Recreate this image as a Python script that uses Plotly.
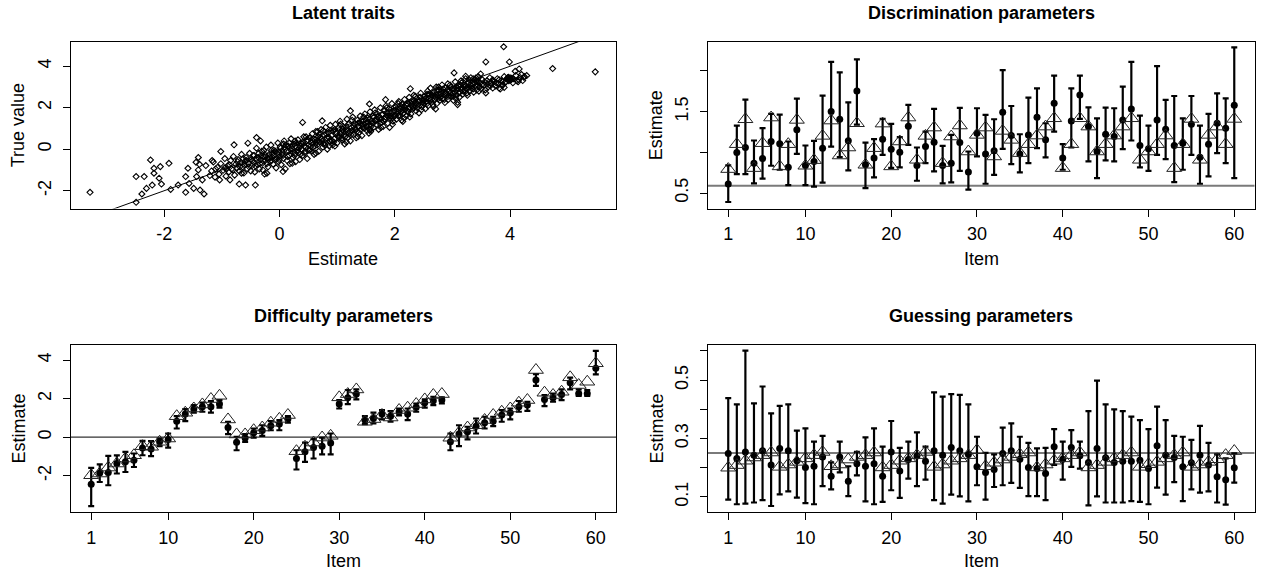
import plotly.graph_objects as go

# ---------------- data ----------------
items = list(range(1, 61))

disc_est = [0.610, 0.998, 1.059, 0.867, 0.924, 1.133, 1.104, 0.818, 1.276, 0.839,
            0.888, 1.051, 1.500, 1.406, 1.141, 1.753, 0.847, 0.929, 1.161, 1.039,
            1.002, 1.320, 0.839, 1.071, 1.124, 0.839, 0.867, 1.120, 0.757, 1.235,
            0.978, 1.018, 1.492, 1.206, 0.978, 1.214, 1.431, 1.153, 1.602, 0.929,
            1.386, 1.704, 1.316, 1.010, 1.222, 1.194, 1.398, 1.533, 1.084, 1.043,
            1.398, 1.284, 1.084, 1.112, 1.345, 0.941, 1.100, 1.357, 1.296, 1.578]
disc_lo = [0.390, 0.733, 0.733, 0.618, 0.676, 0.835, 0.786, 0.598, 0.982, 0.598,
           0.578, 0.627, 1.071, 0.940, 0.778, 1.340, 0.561, 0.692, 0.969, 0.810,
           0.814, 1.092, 0.651, 0.867, 0.765, 0.618, 0.631, 0.773, 0.541, 0.949,
           0.614, 0.724, 1.043, 0.855, 0.753, 0.867, 1.051, 0.937, 1.255, 0.786,
           1.059, 1.410, 0.888, 0.684, 0.900, 0.888, 1.039, 1.145, 0.814, 0.773,
           0.969, 0.916, 0.635, 0.786, 0.969, 0.614, 0.704, 0.990, 0.867, 0.684]
disc_hi = [0.840, 1.329, 1.647, 1.145, 1.296, 1.471, 1.463, 1.133, 1.659, 1.084,
           1.141, 1.696, 2.112, 1.982, 1.614, 2.141, 1.120, 1.161, 1.410, 1.349,
           1.186, 1.582, 1.059, 1.255, 1.533, 1.080, 1.214, 1.545, 1.010, 1.541,
           1.459, 1.406, 2.010, 1.569, 1.222, 1.671, 1.786, 1.357, 1.941, 1.100,
           1.786, 1.941, 1.553, 1.418, 1.549, 1.541, 1.806, 2.112, 1.451, 1.329,
           2.059, 1.643, 1.692, 1.418, 1.692, 1.329, 1.471, 1.724, 1.663, 2.288]
disc_true = [0.794, 1.100, 1.406, 0.806, 1.112, 1.427, 0.827, 1.100, 1.398, 0.835,
             0.904, 1.202, 1.390, 0.961, 1.059, 1.357, 0.847, 1.051, 1.353, 0.827,
             1.133, 1.427, 0.908, 1.202, 1.304, 0.867, 1.194, 1.329, 1.010, 1.214,
             1.304, 0.949, 1.263, 1.153, 0.990, 1.100, 1.206, 1.316, 1.418, 0.806,
             1.100, 1.418, 1.316, 1.010, 1.100, 1.206, 1.316, 1.418, 0.908, 1.010,
             1.100, 1.206, 0.806, 1.100, 1.410, 0.908, 1.214, 1.316, 1.100, 1.410]
disc_ref = 0.59

diff_est = [-2.45, -1.86, -1.84, -1.37, -1.28, -1.20, -0.56, -0.61, -0.24, -0.12,
            0.83, 1.20, 1.46, 1.58, 1.58, 1.72, 0.50, -0.26, -0.05, 0.23,
            0.35, 0.59, 0.68, 0.94, -1.11, -0.76, -0.54, -0.47, -0.30, 1.72,
            2.05, 2.24, 0.89, 0.97, 1.20, 1.09, 1.32, 1.20, 1.55, 1.79,
            1.89, 1.93, -0.24, 0.16, 0.28, 0.57, 0.75, 0.83, 1.15, 1.27,
            1.58, 1.67, 2.97, 1.96, 2.05, 2.22, 2.83, 2.27, 2.27, 3.58]
diff_lo = [-3.58, -2.33, -2.50, -1.89, -1.81, -1.55, -0.94, -0.99, -0.47, -0.54,
           0.45, 0.83, 1.27, 1.32, 1.28, 1.53, 0.16, -0.68, -0.24, -0.02,
           0.07, 0.36, 0.36, 0.75, -1.68, -1.28, -1.11, -0.89, -0.89, 1.49,
           1.72, 1.96, 0.68, 0.71, 0.92, 0.80, 1.13, 0.89, 1.32, 1.53,
           1.67, 1.75, -0.68, -0.47, -0.12, 0.19, 0.45, 0.57, 0.80, 0.92,
           1.32, 1.37, 2.67, 1.61, 1.84, 1.93, 2.48, 2.14, 2.14, 3.26]
diff_hi = [-1.60, -1.41, -0.97, -0.95, -0.76, -0.85, -0.19, -0.21, -0.07, 0.19,
           1.09, 1.46, 1.67, 1.79, 1.88, 1.93, 0.80, 0.02, 0.16, 0.45,
           0.62, 0.83, 0.89, 1.09, -0.68, -0.28, -0.10, -0.02, 0.19, 1.93,
           2.45, 2.48, 1.09, 1.27, 1.41, 1.35, 1.49, 1.49, 1.75, 1.96,
           2.10, 2.07, 0.19, 0.62, 0.54, 0.97, 1.06, 1.06, 1.41, 1.49,
           1.88, 1.84, 3.28, 2.19, 2.27, 2.48, 3.09, 2.48, 2.45, 4.48]
diff_true = [-1.98, -1.89, -1.58, -1.37, -1.11, -0.94, -0.47, -0.50, -0.24, -0.07,
             1.09, 1.27, 1.49, 1.70, 1.98, 2.15, 0.92, 0.14, 0.14, 0.36,
             0.50, 0.75, 0.95, 1.15, -0.73, -0.50, -0.28, -0.02, 0.07, 2.07,
             2.24, 2.48, 0.80, 0.94, 1.15, 1.02, 1.41, 1.53, 1.72, 1.96,
             2.19, 2.24, -0.03, 0.23, 0.50, 0.62, 0.89, 1.15, 1.32, 1.49,
             1.79, 1.93, 3.49, 2.31, 2.19, 2.36, 3.11, 2.71, 2.88, 3.84]
diff_ref = 0.0

guess_est = [0.249, 0.232, 0.254, 0.243, 0.258, 0.209, 0.266, 0.258, 0.224, 0.201,
             0.205, 0.237, 0.171, 0.237, 0.154, 0.214, 0.205, 0.214, 0.171, 0.254,
             0.189, 0.228, 0.240, 0.222, 0.258, 0.243, 0.269, 0.258, 0.245, 0.203,
             0.184, 0.194, 0.249, 0.258, 0.229, 0.201, 0.197, 0.180, 0.272, 0.229,
             0.269, 0.241, 0.218, 0.266, 0.234, 0.218, 0.222, 0.222, 0.226, 0.197,
             0.275, 0.243, 0.235, 0.203, 0.217, 0.243, 0.209, 0.169, 0.159, 0.200]
guess_lo = [0.091, 0.075, 0.077, 0.081, 0.089, 0.069, 0.109, 0.119, 0.098, 0.079,
            0.075, 0.137, 0.126, 0.184, 0.103, 0.174, 0.085, 0.075, 0.083, 0.123,
            0.097, 0.163, 0.137, 0.159, 0.089, 0.077, 0.108, 0.102, 0.085, 0.140,
            0.091, 0.134, 0.140, 0.148, 0.131, 0.103, 0.103, 0.089, 0.210, 0.159,
            0.203, 0.197, 0.071, 0.102, 0.081, 0.081, 0.081, 0.086, 0.083, 0.075,
            0.132, 0.108, 0.151, 0.086, 0.126, 0.115, 0.119, 0.081, 0.074, 0.149]
guess_hi = [0.438, 0.417, 0.601, 0.420, 0.478, 0.386, 0.412, 0.417, 0.327, 0.335,
            0.289, 0.309, 0.218, 0.289, 0.205, 0.254, 0.304, 0.335, 0.272, 0.360,
            0.268, 0.289, 0.321, 0.272, 0.458, 0.443, 0.452, 0.449, 0.417, 0.306,
            0.251, 0.246, 0.337, 0.352, 0.306, 0.285, 0.266, 0.268, 0.332, 0.289,
            0.329, 0.289, 0.394, 0.498, 0.417, 0.400, 0.394, 0.375, 0.363, 0.332,
            0.409, 0.363, 0.309, 0.306, 0.295, 0.343, 0.285, 0.246, 0.232, 0.249]
guess_true = [0.200, 0.209, 0.224, 0.235, 0.243, 0.252, 0.203, 0.211, 0.220, 0.232,
              0.243, 0.254, 0.205, 0.211, 0.228, 0.237, 0.243, 0.252, 0.201, 0.209,
              0.224, 0.232, 0.243, 0.254, 0.203, 0.211, 0.224, 0.232, 0.243, 0.260,
              0.205, 0.217, 0.228, 0.237, 0.246, 0.252, 0.201, 0.211, 0.224, 0.232,
              0.243, 0.252, 0.201, 0.209, 0.220, 0.232, 0.243, 0.252, 0.203, 0.212,
              0.220, 0.232, 0.243, 0.252, 0.203, 0.211, 0.220, 0.229, 0.243, 0.257]
guess_ref = 0.25

# latent traits: (estimate, true value) pairs read from the cloud
latent_outliers = [
    (-3.29, -2.08), (-2.49, -2.56), (-2.49, -1.32), (-2.35, -1.32), (-2.39, -2.16),
    (-2.31, -1.89), (-2.24, -0.52), (-2.18, -0.92), (-2.18, -1.16), (-2.21, -1.73),
    (-2.07, -0.84), (-2.09, -1.40), (-2.05, -1.68), (-1.92, -0.68), (-1.89, -1.94),
    (-1.76, -1.73), (-1.63, -2.08), (-1.63, -1.32), (-1.59, -0.92), (-1.57, -1.65),
    (-1.49, -1.89), (-1.44, -1.32), (-1.41, -0.40), (-1.39, -0.73), (-1.41, -1.00),
    (-1.45, -0.63), (-1.31, -2.16), (-1.38, -1.97), (-1.28, -0.79), (-1.34, -1.48),
    (-1.21, -1.27), (-1.17, -0.55), (-1.11, -0.95), (-1.02, -0.11), (-1.04, -1.48),
    (-0.92, -0.95), (-0.86, -1.48), (-0.79, 0.21), (-0.70, -1.68), (-0.66, -1.16),
    (-0.59, -1.73), (-0.55, 0.29), (-0.42, -1.73), (-0.40, 0.56), (-0.33, 0.40),
    (-0.29, -1.00), (-0.22, -1.16), (0.06, -1.08), (0.40, 1.29), (0.22, -0.68),
    (0.63, -0.19), (0.74, 1.37),
    (3.89, 4.94), (3.58, 4.21), (3.99, 4.21), (4.74, 3.89), (5.48, 3.73),
    (3.03, 3.68), (4.09, 3.76), (4.16, 3.87), (4.29, 3.55), (4.22, 3.31),
    (4.24, 3.47), (4.15, 3.35), (3.99, 3.40), (3.97, 3.47), (3.87, 3.27),
    (3.81, 2.95), (3.90, 2.98), (3.58, 2.71), (3.23, 3.52), (3.09, 2.15),
    (3.09, 2.26), (3.49, 3.63), (3.41, 3.44), (3.70, 3.35), (1.91, 1.05),
    (2.27, 2.92), (2.14, 1.34), (1.55, 0.77), (1.58, 0.94), (1.56, 2.18),
    (1.84, 2.39), (2.71, 1.94), (1.23, 1.85), (0.88, 0.37), (1.08, 0.53),
]
latent_band = [
    (-1.18, -1.05), (-1.15, -0.62), (-1.12, -1.35), (-1.08, -0.88), (-1.05, -1.2), (-1.02, -0.7),
    (-0.98, -1.02), (-0.95, -0.45), (-0.93, -1.3), (-0.9, -0.8), (-0.88, -1.1), (-0.85, -0.55),
    (-0.83, -0.95), (-0.8, -0.35), (-0.78, -1.25), (-0.76, -0.72), (-0.74, -0.9), (-0.72, -0.5),
    (-0.7, -1.05), (-0.68, -0.65), (-0.66, -0.25), (-0.64, -0.85), (-0.62, -1.15), (-0.6, -0.58),
    (-0.58, -0.4), (-0.56, -0.95), (-0.54, -0.7), (-0.52, -0.2), (-0.5, -1.05), (-0.49, -0.5),
    (-0.48, -0.8), (-0.46, -0.3), (-0.45, -0.62), (-0.43, -1.1), (-0.41, -0.45), (-0.4, 0.05),
    (-0.38, -0.75), (-0.36, -0.2), (-0.35, -0.95), (-0.33, -0.5), (-0.31, -0.1), (-0.3, -0.68),
    (-0.28, -0.35), (-0.26, -1.2), (-0.25, -0.55), (-0.23, 0.1), (-0.21, -0.42), (-0.2, -0.85),
    (-0.18, -0.25), (-0.16, -0.6), (-0.15, 0.2), (-0.13, -0.38), (-0.11, -0.72), (-0.1, -0.05),
    (-0.08, -0.5), (-0.06, -0.9), (-0.05, -0.2), (-0.03, 0.3), (-0.02, -0.6), (0.0, -0.35),
    (0.02, 0.05), (0.03, -0.75), (0.05, -0.15), (0.07, -0.45), (0.08, 0.4), (0.1, -0.95),
    (0.12, -0.1), (0.13, -0.55), (0.15, 0.15), (0.17, -0.3), (0.18, -0.7), (0.2, 0.5),
    (0.22, 0.0), (0.23, -0.4), (0.25, 0.25), (0.27, -0.2), (0.28, -0.6), (0.3, 0.1),
    (0.32, 0.45), (0.33, -0.15), (0.35, -0.5), (0.37, 0.3), (0.38, 0.0), (0.4, -0.3),
    (0.42, 0.6), (0.43, 0.15), (0.45, -0.1), (0.47, 0.4), (0.48, -0.45), (0.5, 0.2),
    (0.52, 0.55), (0.53, -0.05), (0.55, 0.3), (0.57, 0.75), (0.58, 0.1), (0.6, -0.25),
    (0.62, 0.45), (0.63, 0.85), (0.65, 0.2), (0.67, 0.6), (0.68, -0.1), (0.7, 0.35),
    (0.72, 0.95), (0.73, 0.5), (0.75, 0.1), (0.77, 0.7), (0.78, 0.3), (0.8, 1.05),
    (0.82, 0.55), (0.83, 0.0), (0.85, 0.8), (0.87, 0.4), (0.88, 1.15), (0.9, 0.65),
    (0.92, 0.2), (0.93, 0.9), (0.95, 0.5), (0.97, 1.2), (0.98, 0.75), (1.0, 0.3),
    (1.02, 1.0), (1.03, 0.6), (1.05, 1.35), (1.07, 0.85), (1.08, 0.45), (1.1, 1.1),
    (1.12, 0.7), (1.13, 0.25), (1.15, 0.95), (1.17, 1.45), (1.18, 0.55), (1.2, 1.2),
    (1.22, 0.85), (1.23, 0.4), (1.25, 1.05), (1.27, 1.55), (1.28, 0.7), (1.3, 1.25),
    (1.32, 0.95), (1.33, 0.55), (1.35, 1.4), (1.37, 1.1), (1.38, 0.8), (1.4, 1.6),
    (1.42, 1.2), (1.43, 0.65), (1.45, 1.35), (1.47, 1.0), (1.48, 1.7), (1.5, 1.25),
    (1.52, 0.9), (1.53, 1.5), (1.55, 1.15), (1.57, 1.8), (1.58, 0.85), (1.6, 1.35),
    (1.62, 1.6), (1.63, 1.05), (1.65, 1.9), (1.67, 1.4), (1.68, 1.2), (1.7, 1.7),
    (1.72, 0.95), (1.73, 1.5), (1.75, 2.0), (1.77, 1.3), (1.78, 1.65), (1.8, 1.1),
    (1.82, 1.85), (1.83, 1.45), (1.85, 2.1), (1.87, 1.6), (1.88, 1.25), (1.9, 1.95),
    (1.92, 1.5), (1.93, 1.75), (1.95, 2.2), (1.97, 1.35), (1.98, 1.85), (2.0, 1.6),
    (2.02, 2.05), (2.03, 1.45), (2.05, 1.8), (2.07, 2.3), (2.08, 1.65), (2.1, 1.95),
    (2.12, 1.4), (2.13, 2.15), (2.15, 1.75), (2.17, 2.4), (2.18, 1.9), (2.2, 1.6),
    (2.22, 2.2), (2.23, 1.8), (2.25, 2.5), (2.27, 2.0), (2.28, 1.7), (2.3, 2.3),
    (2.32, 1.95), (2.33, 2.6), (2.35, 2.1), (2.37, 1.85), (2.38, 2.45), (2.4, 2.15),
    (2.42, 1.75), (2.43, 2.35), (2.45, 2.7), (2.47, 2.05), (2.48, 2.4), (2.5, 2.2),
    (2.52, 2.55), (2.53, 1.95), (2.55, 2.3), (2.57, 2.8), (2.58, 2.1), (2.6, 2.45),
    (2.62, 2.95), (2.63, 2.25), (2.65, 2.6), (2.67, 2.05), (2.68, 2.75), (2.7, 2.4),
    (2.72, 3.0), (2.73, 2.2), (2.75, 2.55), (2.77, 2.85), (2.78, 2.35), (2.8, 2.65),
    (2.82, 3.1), (2.83, 2.45), (2.85, 2.75), (2.87, 2.25), (2.88, 2.95), (2.9, 2.6),
    (2.92, 3.15), (2.93, 2.4), (2.95, 2.8), (2.97, 2.55), (2.98, 3.0), (3.0, 2.7),
    (3.02, 2.35), (3.03, 2.9), (3.05, 3.25), (3.07, 2.6), (3.08, 2.85), (3.1, 3.05),
    (3.12, 2.5), (3.13, 2.75), (3.15, 3.3), (3.17, 2.95), (3.18, 2.65), (3.2, 3.1),
    (3.22, 2.85), (3.23, 3.4), (3.25, 2.7), (3.27, 3.0), (3.28, 3.2), (3.3, 2.8),
    (3.32, 3.45), (3.33, 2.95), (3.35, 3.15), (3.37, 2.75), (3.38, 3.35), (3.4, 3.05),
    (3.42, 2.85), (3.43, 3.25), (3.45, 3.5), (3.47, 3.0), (3.48, 3.2), (3.5, 2.9),
    (3.52, 3.35), (3.55, 3.1), (3.57, 2.85), (3.6, 3.3), (3.62, 3.0), (3.65, 3.45),
    (3.67, 3.2), (3.7, 2.95), (3.72, 3.25), (3.75, 3.05), (3.78, 3.4), (3.8, 3.15),
    (3.83, 2.9), (3.85, 3.3), (3.88, 3.1), (3.9, 3.5), (3.93, 3.25), (3.95, 3.4),
    (3.98, 3.3), (4.0, 3.45), (4.02, 3.35), (4.05, 3.2), (4.1, 3.55), (4.12, 3.3),
    (4.18, 3.45), (4.2, 3.6), (4.25, 3.5), (4.01, 3.38), (4.03, 3.42), (3.99, 3.36),
]
latent_core = [
    (-0.27, -0.05), (-0.19, -0.5), (-0.12, -0.2), (-0.04, -0.45), (0.04, -0.25), (0.09, 0.1),
    (0.14, -0.35), (0.19, 0.0), (0.24, -0.15), (0.29, 0.3), (0.34, 0.05), (0.39, 0.25),
    (0.44, -0.2), (0.49, 0.45), (0.54, 0.15), (0.59, 0.5), (0.64, 0.3), (0.69, 0.7),
    (0.74, 0.4), (0.79, 0.2), (0.84, 0.6), (0.89, 0.9), (0.94, 0.35), (0.99, 0.8),
    (1.04, 0.55), (1.09, 0.95), (1.14, 0.6), (1.19, 0.9), (1.24, 0.7), (1.29, 1.1),
    (1.34, 0.85), (1.39, 1.3), (1.44, 1.05), (1.49, 1.45), (1.54, 1.3), (1.59, 1.1),
    (1.64, 1.55), (1.69, 1.45), (1.74, 1.25), (1.79, 1.7), (1.84, 1.55), (1.89, 1.75),
    (1.94, 1.6), (1.99, 2.0), (2.04, 1.7), (2.09, 2.1), (2.14, 1.9), (2.19, 2.15),
    (2.24, 1.95), (2.29, 2.15), (2.34, 2.35), (2.39, 2.0), (2.44, 2.5), (2.49, 2.3),
    (2.54, 2.45), (2.59, 2.65), (2.64, 2.4), (2.69, 2.6), (2.74, 2.85), (2.79, 2.5),
    (2.84, 2.9), (2.89, 2.7), (2.94, 2.55), (2.99, 2.9), (3.04, 2.75), (3.09, 2.95),
    (3.14, 3.1), (3.19, 2.8), (3.24, 3.05), (3.29, 3.35), (3.34, 3.05), (3.39, 3.2),
    (3.44, 3.1),
    (-0.95, -0.9), (-0.87, -0.75), (-0.81, -1.0), (-0.73, -0.6), (-0.69, -0.85), (-0.61, -0.75),
    (-0.57, -0.55), (-0.47, -0.55), (-0.42, -0.8), (-0.37, -0.4), (-0.32, -0.3), (-0.29, -0.55),
    (-0.24, -0.3), (-0.17, -0.4), (-0.14, -0.05), (-0.09, -0.3), (-0.07, -0.1), (-0.01, -0.15),
    (0.01, 0.1), (0.06, -0.3), (0.11, 0.2), (0.16, -0.1), (0.21, 0.15), (0.26, -0.3),
    (0.31, -0.05), (0.36, 0.15), (0.41, 0.35), (0.46, 0.1), (0.51, -0.05), (0.56, 0.45),
    (0.61, 0.15), (0.66, 0.4), (0.71, 0.55), (0.76, 0.25), (0.81, 0.75), (0.86, 0.55),
    (0.91, 0.4), (0.96, 0.95), (1.01, 0.65), (1.06, 0.75), (1.11, 0.85), (1.16, 1.1),
    (1.21, 0.75), (1.26, 0.9), (1.31, 1.0), (1.36, 1.25), (1.41, 0.95), (1.46, 1.2),
    (1.51, 1.1), (1.56, 1.45), (1.61, 1.25), (1.66, 1.35), (1.71, 1.55), (1.76, 1.45),
    (1.81, 1.35), (1.86, 1.75), (1.91, 1.6), (1.96, 1.5), (2.01, 1.85), (2.06, 1.6),
    (2.11, 1.8), (2.16, 2.05), (2.21, 1.85), (2.26, 2.25), (2.31, 2.05), (2.36, 2.25),
    (2.41, 2.3), (2.46, 2.2), (2.51, 2.4), (2.56, 2.2), (2.61, 2.35), (2.66, 2.7),
    (2.71, 2.5), (2.76, 2.45), (2.81, 2.8), (2.86, 2.6), (2.91, 2.85), (2.96, 2.7),
    (3.01, 2.55), (3.06, 3.0), (3.11, 2.7), (3.16, 2.85), (3.21, 3.0), (3.26, 2.9),
    (3.31, 3.1), (3.36, 2.9), (3.41, 3.3), (3.46, 3.25), (3.51, 3.1), (3.56, 3.25),
    (3.61, 3.15), (3.66, 3.05), (3.71, 3.3), (3.76, 3.2), (3.81, 3.35), (3.86, 3.1),
    (3.91, 3.2), (3.96, 3.45), (4.06, 3.4), (4.14, 3.25),
    (-0.63, -0.45), (-0.53, -0.85), (-0.44, -0.3), (-0.34, -0.7), (-0.22, -0.7), (-0.14, -0.55),
    (-0.01, -0.5), (0.07, 0.25), (0.17, 0.3), (0.27, 0.4), (0.36, -0.25), (0.46, 0.6),
    (0.56, -0.1), (0.66, 0.85), (0.76, 0.9), (0.86, 0.15), (0.96, 0.15), (1.06, 1.2),
    (1.16, 0.35), (1.26, 1.4), (1.36, 0.6), (1.46, 1.55), (1.56, 0.95), (1.66, 1.75),
    (1.76, 1.05), (1.86, 2.0), (1.96, 1.2), (2.06, 2.2), (2.16, 1.5), (2.26, 1.55),
    (2.36, 2.55), (2.46, 1.9), (2.56, 2.65), (2.66, 2.15), (2.76, 3.0), (2.86, 2.4),
    (2.96, 3.1), (3.06, 2.45), (3.16, 3.2), (3.26, 2.6), (3.36, 3.4), (3.46, 2.8),
]
latent_points = latent_outliers + latent_band + latent_core
latent_est = [p[0] for p in latent_points]
latent_true = [p[1] for p in latent_points]

titles = ["Latent traits", "Discrimination parameters", "Difficulty parameters", "Guessing parameters"]

# ---------------- layout helpers ----------------
W, H = 1261, 576
FONT = "Liberation Sans, Arial, sans-serif"
FS = 18
TFS = 18

def px_x(p):
    return p / W

def px_y(p):
    return 1 - p / H

LEFT = (71, 616)
RIGHT = (708, 1254.5)
TOP = (42, 208.5)
BOTTOM = (345, 512)

def dom_x(a):
    return [px_x(a[0]), px_x(a[1])]

def dom_y(a):
    return [px_y(a[1]), px_y(a[0])]

axis_common = dict(
    showline=True, mirror=True, linecolor="black", linewidth=1,
    ticks="outside", ticklen=7, tickwidth=1, tickcolor="black",
    showgrid=False, zeroline=False,
    tickfont=dict(family=FONT, size=FS, color="black"),
)

def xax(domain, rng, vals, text, anchor):
    d = dict(axis_common)
    d.update(domain=domain, range=rng, tickmode="array", tickvals=vals, ticktext=text,
             anchor=anchor, ticklabelstandoff=2)
    return d

def yax(domain, rng, vals, text, anchor):
    d = dict(axis_common)
    d.update(domain=domain, range=rng, tickmode="array", tickvals=vals, ticktext=text,
             anchor=anchor, tickangle=-90, ticklabelstandoff=5)
    return d

item_ticks = [1, 10, 20, 30, 40, 50, 60]
item_text = [str(v) for v in item_ticks]

fig = go.Figure()

# Panel 1: latent traits
fig.add_trace(go.Scatter(
    x=latent_est, y=latent_true, mode="markers",
    marker=dict(symbol="diamond-open", size=4.6, color="black", line=dict(width=1.1)),
    xaxis="x", yaxis="y", showlegend=False, hoverinfo="skip"))
x1_rng = [-3.62, 5.84]
fig.add_trace(go.Scatter(
    x=x1_rng, y=x1_rng, mode="lines", line=dict(color="black", width=1),
    xaxis="x", yaxis="y", showlegend=False, hoverinfo="skip"))

def param_panel(est, lo, hi, true, xa, ya):
    fig.add_trace(go.Scatter(
        x=items, y=est, mode="markers",
        marker=dict(symbol="circle", size=7, color="black"),
        error_y=dict(type="data", symmetric=False,
                     array=[h - e for h, e in zip(hi, est)],
                     arrayminus=[e - l for e, l in zip(est, lo)],
                     thickness=2.2, width=3, color="black"),
        xaxis=xa, yaxis=ya, showlegend=False, hoverinfo="skip"))
    fig.add_trace(go.Scatter(
        x=items, y=true, mode="markers",
        marker=dict(symbol="triangle-up-open", size=13, color="#222222", line=dict(width=1)),
        xaxis=xa, yaxis=ya, showlegend=False, hoverinfo="skip"))

param_panel(disc_est, disc_lo, disc_hi, disc_true, "x2", "y2")
param_panel(diff_est, diff_lo, diff_hi, diff_true, "x3", "y3")
param_panel(guess_est, guess_lo, guess_hi, guess_true, "x4", "y4")

shapes = [
    dict(type="line", xref="x2 domain", yref="y2", x0=0, x1=1, y0=disc_ref, y1=disc_ref,
         line=dict(color="#7a7a7a", width=2), layer="below"),
    dict(type="line", xref="x3 domain", yref="y3", x0=0, x1=1, y0=diff_ref, y1=diff_ref,
         line=dict(color="#333333", width=1.3), layer="below"),
    dict(type="line", xref="x4 domain", yref="y4", x0=0, x1=1, y0=guess_ref, y1=guess_ref,
         line=dict(color="#7a7a7a", width=2), layer="below"),
]

item_rng = [-1.36, 62.36]
fig.update_layout(
    width=W, height=H, margin=dict(l=0, r=0, t=0, b=0),
    paper_bgcolor="white", plot_bgcolor="white",
    font=dict(family=FONT, size=FS, color="black"),
    showlegend=False,
    xaxis=xax(dom_x(LEFT), x1_rng, [-2, 0, 2, 4], ["-2", "0", "2", "4"], "y"),
    yaxis=yax(dom_y(TOP), [-2.86, 5.17], [-2, 0, 2, 4], ["-2", "0", "2", "4"], "x"),
    xaxis2=xax(dom_x(RIGHT), item_rng, item_ticks, item_text, "y2"),
    yaxis2=yax(dom_y(TOP), [0.31, 2.355], [0.5, 1.0, 1.5, 2.0], ["0.5", "", "1.5", ""], "x2"),
    xaxis3=xax(dom_x(LEFT), item_rng, item_ticks, item_text, "y3"),
    yaxis3=yax(dom_y(BOTTOM), [-3.89, 4.79], [-2, 0, 2, 4], ["-2", "0", "2", "4"], "x3"),
    xaxis4=xax(dom_x(RIGHT), item_rng, item_ticks, item_text, "y4"),
    yaxis4=yax(dom_y(BOTTOM), [0.0485, 0.62], [0.1, 0.2, 0.3, 0.4, 0.5, 0.6],
               ["0.1", "", "0.3", "", "0.5", ""], "x4"),
    shapes=shapes,
)

def ann(text, xp, yp, bold=False, angle=0, size=FS):
    return dict(text=("<b>%s</b>" % text) if bold else text,
                x=px_x(xp), y=px_y(yp), xref="paper", yref="paper",
                xanchor="center", yanchor="middle", showarrow=False, textangle=angle,
                font=dict(family=FONT, size=size, color="black"))

cxL = (LEFT[0] + LEFT[1]) / 2
cxR = (RIGHT[0] + RIGHT[1]) / 2
cyT = (TOP[0] + TOP[1]) / 2
cyB = (BOTTOM[0] + BOTTOM[1]) / 2
annotations = [
    ann(titles[0], cxL, 13, bold=True, size=TFS),
    ann(titles[1], cxR, 13, bold=True, size=TFS),
    ann(titles[2], cxL, 316, bold=True, size=TFS),
    ann(titles[3], cxR, 316, bold=True, size=TFS),
    ann("Estimate", cxL, 259),
    ann("Item", cxR, 259),
    ann("Item", cxL, 561),
    ann("Item", cxR, 561),
    ann("True value", 18, cyT, angle=-90),
    ann("Estimate", 656, cyT, angle=-90),
    ann("Estimate", 18, cyB, angle=-90),
    ann("Estimate", 656, cyB, angle=-90),
]
fig.update_layout(annotations=annotations)

fig.write_html("out.html",
               config={"displayModeBar": False, "staticPlot": True},
               post_script="document.body.style.margin='0';document.body.style.overflow='hidden';")
